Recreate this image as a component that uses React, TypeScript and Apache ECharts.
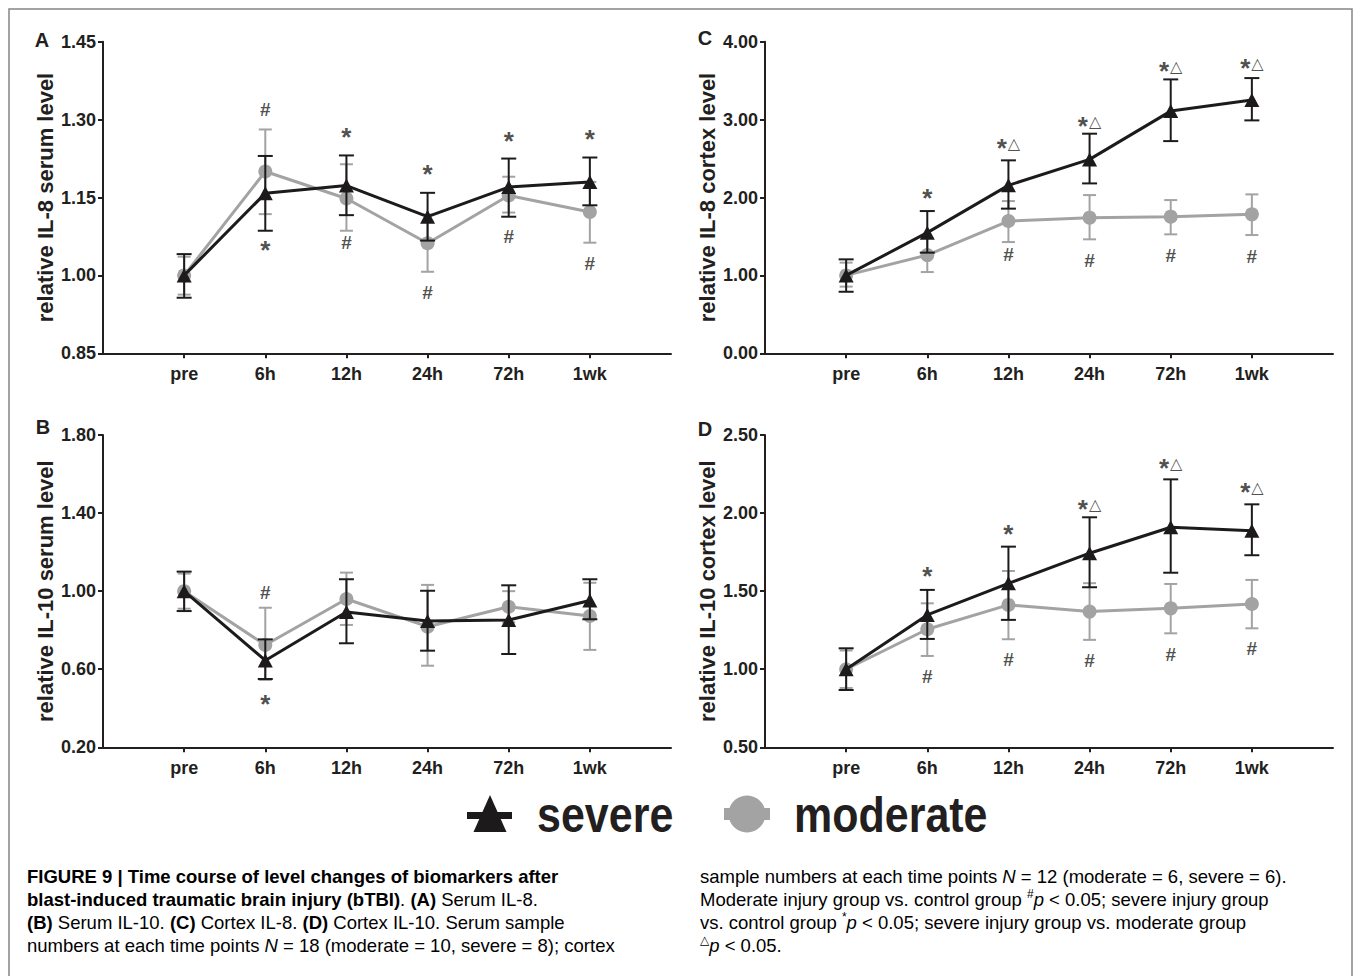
import React, { useEffect, useRef } from "react";
import * as echarts from "echarts";

const categories = [" ", "pre", "6h", "12h", "24h", "72h", "1wk", "  "];

// Panel A: serum IL-8
const aTicks = [0.85, 1.0, 1.15, 1.3, 1.45];
const aSevereMean = [1.0, 1.158, 1.173, 1.113, 1.17, 1.18];
const aSevereHigh = [1.041, 1.23, 1.231, 1.159, 1.225, 1.227];
const aSevereLow = [0.957, 1.086, 1.116, 1.067, 1.113, 1.135];
const aModerateMean = [1.0, 1.2, 1.148, 1.062, 1.154, 1.122];
const aModerateHigh = [1.036, 1.281, 1.214, 1.117, 1.19, 1.18];
const aModerateLow = [0.963, 1.118, 1.086, 1.007, 1.121, 1.063];
const aAnnoTime = ["6h", "6h", "12h", "12h", "24h", "24h", "72h", "72h", "1wk", "1wk"];
const aAnnoText = ["#", "*", "*", "#", "*", "#", "*", "#", "*", "#"];
const aAnnoValue = [1.32, 1.059, 1.277, 1.063, 1.205, 0.967, 1.268, 1.074, 1.272, 1.022];

// Panel B: serum IL-10
const bTicks = [0.2, 0.6, 1.0, 1.4, 1.8];
const bSevereMean = [1.0, 0.645, 0.893, 0.847, 0.852, 0.952];
const bSevereHigh = [1.1, 0.753, 1.061, 1.002, 1.03, 1.061];
const bSevereLow = [0.898, 0.55, 0.733, 0.695, 0.678, 0.856];
const bModerateMean = [1.0, 0.724, 0.96, 0.818, 0.92, 0.873];
const bModerateHigh = [1.09, 0.915, 1.095, 1.032, 1.0, 1.043];
const bModerateLow = [0.91, 0.545, 0.827, 0.618, 0.84, 0.699];
const bAnnoTime = ["6h", "6h"];
const bAnnoText = ["#", "*"];
const bAnnoValue = [0.995, 0.448];

// Panel C: cortex IL-8
const cTicks = [0, 1, 2, 3, 4];
const cSevereMean = [1.0, 1.549, 2.156, 2.489, 3.109, 3.251];
const cSevereHigh = [1.206, 1.826, 2.477, 2.819, 3.516, 3.533];
const cSevereLow = [0.79, 1.292, 1.857, 2.181, 2.724, 2.99];
const cModerateMean = [1.0, 1.261, 1.698, 1.741, 1.754, 1.784];
const cModerateHigh = [1.164, 1.48, 1.954, 2.031, 1.967, 2.04];
const cModerateLow = [0.856, 1.043, 1.428, 1.463, 1.527, 1.518];
const cAnnoTime = ["6h", "12h", "12h", "24h", "24h", "72h", "72h", "1wk", "1wk"];
const cAnnoText = ["*", "*△", "#", "*△", "#", "*△", "#", "*△", "#"];
const cAnnoValue = [2.064, 2.696, 1.272, 2.988, 1.187, 3.694, 1.26, 3.729, 1.243];

// Panel D: cortex IL-10
const dTicks = [0.5, 1.0, 1.5, 2.0, 2.5];
const dSevereMean = [1.0, 1.348, 1.55, 1.743, 1.909, 1.887];
const dSevereHigh = [1.134, 1.508, 1.785, 1.973, 2.216, 2.056];
const dSevereLow = [0.867, 1.194, 1.316, 1.525, 1.618, 1.73];
const dModerateMean = [1.0, 1.256, 1.412, 1.369, 1.39, 1.418];
const dModerateHigh = [1.12, 1.422, 1.629, 1.551, 1.546, 1.572];
const dModerateLow = [0.88, 1.085, 1.192, 1.188, 1.23, 1.262];
const dAnnoTime = ["6h", "6h", "12h", "12h", "24h", "24h", "72h", "72h", "1wk", "1wk"];
const dAnnoText = ["*", "#", "*", "#", "*△", "#", "*△", "#", "*△", "#"];
const dAnnoValue = [1.63, 0.956, 1.897, 1.06, 2.058, 1.054, 2.321, 1.097, 2.167, 1.135];

const FONT = "'Liberation Sans', Arial, Helvetica, sans-serif";
const INK = "#231f20";
const SEVERE = "#1d1a1b";
const MODERATE = "#a3a3a3";

type PanelCfg = {
  left: number;
  top: number;
  height: number;
  ticks: number[];
  title: string;
  sMean: number[];
  sHigh: number[];
  sLow: number[];
  mMean: number[];
  mHigh: number[];
  mLow: number[];
  annoTime: string[];
  annoText: string[];
  annoValue: number[];
};

const panels: PanelCfg[] = [
  { left: 103, top: 41.7, height: 311.6, ticks: aTicks, title: "relative IL-8 serum level", sMean: aSevereMean, sHigh: aSevereHigh, sLow: aSevereLow, mMean: aModerateMean, mHigh: aModerateHigh, mLow: aModerateLow, annoTime: aAnnoTime, annoText: aAnnoText, annoValue: aAnnoValue },
  { left: 103, top: 435, height: 312.3, ticks: bTicks, title: "relative IL-10 serum level", sMean: bSevereMean, sHigh: bSevereHigh, sLow: bSevereLow, mMean: bModerateMean, mHigh: bModerateHigh, mLow: bModerateLow, annoTime: bAnnoTime, annoText: bAnnoText, annoValue: bAnnoValue },
  { left: 765, top: 41.7, height: 311.6, ticks: cTicks, title: "relative IL-8 cortex level", sMean: cSevereMean, sHigh: cSevereHigh, sLow: cSevereLow, mMean: cModerateMean, mHigh: cModerateHigh, mLow: cModerateLow, annoTime: cAnnoTime, annoText: cAnnoText, annoValue: cAnnoValue },
  { left: 765, top: 435, height: 312.3, ticks: dTicks, title: "relative IL-10 cortex level", sMean: dSevereMean, sHigh: dSevereHigh, sLow: dSevereLow, mMean: dModerateMean, mHigh: dModerateHigh, mLow: dModerateLow, annoTime: dAnnoTime, annoText: dAnnoText, annoValue: dAnnoValue },
];

function errorBarSeries(idx: number, mean: number[], low: number[], high: number[], color: string, capHalf: number, z: number) {
  return {
    type: "custom",
    xAxisIndex: idx,
    yAxisIndex: idx,
    clip: false,
    z,
    silent: true,
    data: mean.map((_, i) => [i + 1, low[i], high[i]]),
    encode: { x: 0, y: [1, 2] },
    renderItem: (_params: any, api: any) => {
      const x = api.value(0);
      const lo = api.coord([x, api.value(1)]);
      const hi = api.coord([x, api.value(2)]);
      const style = { stroke: color, lineWidth: 2, fill: "none" };
      return {
        type: "group",
        children: [
          { type: "line", shape: { x1: lo[0], y1: lo[1], x2: hi[0], y2: hi[1] }, style },
          { type: "line", shape: { x1: lo[0] - capHalf, y1: lo[1], x2: lo[0] + capHalf, y2: lo[1] }, style },
          { type: "line", shape: { x1: hi[0] - capHalf, y1: hi[1], x2: hi[0] + capHalf, y2: hi[1] }, style },
        ],
      };
    },
  };
}

function annoFormat(t: string) {
  if (t === "#") return "{h|#}";
  if (t === "*") return "{s|*}";
  return "{s|*}{t|△}";
}

function buildOption() {
  const grid: any[] = [];
  const xAxis: any[] = [];
  const yAxis: any[] = [];
  const series: any[] = [];
  panels.forEach((p, idx) => {
    grid.push({ left: p.left, top: p.top, width: 568, height: p.height, containLabel: false, outerBoundsMode: "none" });
    xAxis.push({
      type: "category",
      gridIndex: idx,
      data: categories,
      boundaryGap: false,
      axisLine: { show: true, lineStyle: { color: INK, width: 2 } },
      axisTick: { show: true, length: 5, inside: false, interval: (i: number) => i >= 1 && i <= 6, lineStyle: { color: INK, width: 2 } },
      axisLabel: { interval: 0, margin: 12, fontFamily: FONT, fontWeight: "bold", fontSize: 18, color: INK },
      splitLine: { show: false },
    });
    yAxis.push({
      type: "value",
      gridIndex: idx,
      min: p.ticks[0],
      max: p.ticks[p.ticks.length - 1],
      axisLine: { show: true, lineStyle: { color: INK, width: 2 } },
      axisTick: { show: true, length: 5, customValues: p.ticks, lineStyle: { color: INK, width: 2 } },
      axisLabel: { customValues: p.ticks, margin: 7, formatter: (v: number) => Number(v).toFixed(2), fontFamily: FONT, fontWeight: "bold", fontSize: 18, color: INK },
      splitLine: { show: false },
      name: p.title,
      nameLocation: "middle",
      nameGap: 47,
      nameTextStyle: { fontFamily: FONT, fontWeight: "bold", fontSize: 22, color: INK },
    });
    series.push(errorBarSeries(idx, p.mMean, p.mLow, p.mHigh, MODERATE, 6.5, 2));
    series.push({
      type: "line",
      name: "moderate",
      xAxisIndex: idx,
      yAxisIndex: idx,
      data: p.mMean.map((v, i) => [i + 1, v]),
      symbol: "circle",
      symbolSize: 14,
      itemStyle: { color: MODERATE },
      lineStyle: { color: MODERATE, width: 3 },
      z: 3,
      clip: false,
    });
    series.push(errorBarSeries(idx, p.sMean, p.sLow, p.sHigh, SEVERE, 7.5, 4));
    series.push({
      type: "line",
      name: "severe",
      xAxisIndex: idx,
      yAxisIndex: idx,
      data: p.sMean.map((v, i) => [i + 1, v]),
      symbol: "triangle",
      symbolSize: [15, 14],
      itemStyle: { color: SEVERE },
      lineStyle: { color: SEVERE, width: 3 },
      z: 5,
      clip: false,
    });
    series.push({
      type: "scatter",
      xAxisIndex: idx,
      yAxisIndex: idx,
      symbol: "circle",
      symbolSize: 1,
      itemStyle: { color: "transparent" },
      z: 6,
      silent: true,
      data: p.annoText.map((t, i) => ({
        value: [categories.indexOf(p.annoTime[i]), p.annoValue[i]],
        label: {
          show: true,
          position: "inside",
          offset: t === "#" ? [0, 0] : [0, 5],
          formatter: annoFormat(t),
          rich: {
            h: { fontFamily: FONT, fontWeight: "bold", fontSize: 19, color: INK },
            s: { fontFamily: FONT, fontWeight: "bold", fontSize: 26, color: INK },
            t: { fontFamily: "'DejaVu Sans', sans-serif", fontSize: 16, color: INK, padding: [0, 0, 9, 1] },
          },
        },
      })),
    });
  });

  const capRich = {
    b: { fontFamily: FONT, fontWeight: "bold", fontSize: 18.5, color: INK, lineHeight: 22 },
    n: { fontFamily: FONT, fontSize: 18.5, color: INK, lineHeight: 22 },
    i: { fontFamily: FONT, fontStyle: "italic", fontSize: 18.5, color: INK, lineHeight: 22 },
    sup: { fontFamily: "'Liberation Sans', 'DejaVu Sans', sans-serif", fontSize: 12, color: INK, lineHeight: 14, verticalAlign: "top" },
  };
  const leftLines = [
    "{b|FIGURE 9 | Time course of level changes of biomarkers after}",
    "{b|blast-induced traumatic brain injury (bTBI)}{n|. }{b|(A) }{n|Serum IL-8.}",
    "{b|(B) }{n|Serum IL-10. }{b|(C) }{n|Cortex IL-8. }{b|(D) }{n|Cortex IL-10. Serum sample}",
    "{n|numbers at each time points }{i|N }{n|= 18 (moderate = 10, severe = 8); cortex}",
  ];
  const rightLines = [
    "{n|sample numbers at each time points }{i|N }{n|= 12 (moderate = 6, severe = 6).}",
    "{n|Moderate injury group vs. control group }{sup|#}{i|p }{n|< 0.05; severe injury group}",
    "{n|vs. control group }{sup|*}{i|p }{n|< 0.05; severe injury group vs. moderate group}",
    "{sup|△}{i|p }{n|< 0.05.}",
  ];
  const lineY = [876, 899, 922, 945];
  const captionEls: any[] = [];
  leftLines.forEach((t, i) =>
    captionEls.push({ type: "text", x: 27, y: lineY[i], style: { text: t, rich: capRich, textVerticalAlign: "middle", textAlign: "left" } })
  );
  rightLines.forEach((t, i) =>
    captionEls.push({ type: "text", x: 700, y: lineY[i], style: { text: t, rich: capRich, textVerticalAlign: "middle", textAlign: "left" } })
  );

  const letter = (txt: string, x: number, y: number) => ({
    type: "text",
    x,
    y,
    style: { text: txt, fontFamily: FONT, fontWeight: "bold", fontSize: 20, fill: INK, textAlign: "center", textVerticalAlign: "middle" },
  });

  const graphic: any[] = [
    { type: "polyline", shape: { points: [[9, 976], [9, 9], [1352, 9], [1352, 976]] }, style: { stroke: "#858585", lineWidth: 1.5, fill: "none" } },
    letter("A", 42, 40),
    letter("B", 43, 427),
    letter("C", 705, 38),
    letter("D", 705, 429),
    // legend
    { type: "rect", shape: { x: 467, y: 812, width: 45, height: 7 }, style: { fill: SEVERE } },
    { type: "polygon", shape: { points: [[490, 795], [473.5, 832], [506.5, 832]] }, style: { fill: SEVERE } },
    { type: "text", x: 537, y: 815, scaleX: 0.86, style: { text: "severe", fontFamily: FONT, fontWeight: "bold", fontSize: 50, fill: INK, textAlign: "left", textVerticalAlign: "middle" } },
    { type: "rect", shape: { x: 724, y: 808, width: 46, height: 12 }, style: { fill: MODERATE } },
    { type: "circle", shape: { cx: 747, cy: 814, r: 18.5 }, style: { fill: MODERATE } },
    { type: "text", x: 794, y: 815, scaleX: 0.86, style: { text: "moderate", fontFamily: FONT, fontWeight: "bold", fontSize: 50, fill: INK, textAlign: "left", textVerticalAlign: "middle" } },
    ...captionEls,
  ];

  return {
    animation: false,
    backgroundColor: "#ffffff",
    grid,
    xAxis,
    yAxis,
    series,
    graphic,
  };
}

export default function App() {
  const ref = useRef<HTMLDivElement>(null);
  useEffect(() => {
    if (!ref.current) return;
    const chart = echarts.init(ref.current, null, { renderer: "svg" });
    chart.setOption(buildOption() as any);
    return () => chart.dispose();
  }, []);
  return <div ref={ref} style={{ position: "absolute", left: 0, top: 0, width: 1357, height: 976, background: "#fff" }} />;
}
